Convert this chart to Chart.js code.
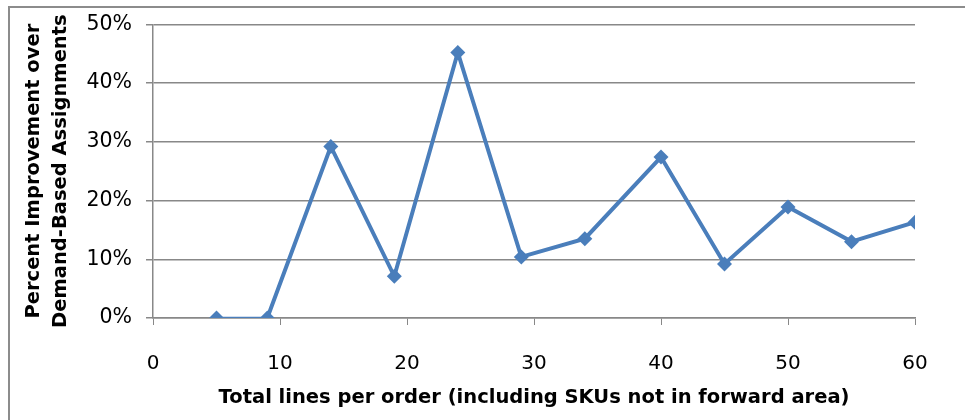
<!DOCTYPE html>
<html>
<head>
<meta charset="utf-8">
<script src="https://cdn.jsdelivr.net/npm/chart.js@4"></script>
<style>
  html, body { margin: 0; padding: 0; background: #fff; }
  #wrap { position: relative; width: 965px; height: 420px; }
  #frame { position: absolute; left: 8px; top: 6px; right: -10px; bottom: -10px;
           border-top: 2px solid #8c8c8c; border-left: 2px solid #8c8c8c; }
  canvas { position: absolute; left: 0; top: 0; }
</style>
</head>
<body>
<div id="wrap">
  <div id="frame"></div>
  <canvas id="improve" width="965" height="420"></canvas>
</div>
<script>
// lines per order vs. percent improvement
var linesPerOrder = [5, 9, 14, 19, 24, 29, 34, 40, 45, 50, 55, 60];
var improvement = [0, 0, 29.2, 7.1, 45.2, 10.4, 13.5, 27.4, 9.2, 18.9, 13.0, 16.3];
var xTitle = "Total lines per order (including SKUs not in forward area)";
var yTitle = ["Percent Improvement over", "Demand-Based Assignments"];

var points = linesPerOrder.map(function (x, i) { return { x: x, y: improvement[i] }; });

var fam = "'DejaVu Sans', sans-serif";
var ctx = document.getElementById("improve").getContext("2d");
var chart = new Chart(ctx, {
  type: 'line',
  data: {
    datasets: [{
      data: points,
      borderColor: "#4a7ebb",
      backgroundColor: "#4a7ebb",
      borderWidth: 4,
      pointStyle: 'rectRot',
      pointRadius: 7.5,
      pointBorderWidth: 0,
      fill: false,
      tension: 0,
      segment: {
        borderWidth: function (c) { return c.p0DataIndex === 0 ? 2.5 : 4; }
      }
    }]
  },
  options: {
    responsive: false,
    animation: false,
    layout: { padding: { left: 10, top: 9, right: 50, bottom: 6 } },
    plugins: { legend: { display: false }, tooltip: { enabled: false } },
    scales: {
      x: {
        type: 'linear',
        min: 0, max: 60,
        ticks: { stepSize: 10, color: "#000", padding: 27, font: { family: fam, size: 20 } },
        grid: { drawOnChartArea: false, color: "#888", tickLength: 7 },
        border: { color: "#888", width: 1.5 },
        title: { display: true, text: xTitle, color: "#000", padding: { top: 4 },
                 font: { family: fam, size: 19.5, weight: 'bold' } },
        afterFit: function (s) { s.height = 96; }
      },
      y: {
        min: 0, max: 50,
        ticks: { stepSize: 10, color: "#000", padding: 14,
                 font: { family: fam, size: 20.5, lineHeight: 1 },
                 callback: function (v) { return v + "%"; } },
        grid: { color: "#888", lineWidth: 1.5, tickLength: 7 },
        border: { color: "#888", width: 1.5 },
        title: { display: true, text: yTitle, color: "#000", padding: { top: 10, bottom: 0 },
                 font: { family: fam, size: 19.5, weight: 'bold', lineHeight: 1.4 } },
        afterFit: function (s) { s.width = 143; }
      }
    }
  }
});
</script>
</body>
</html>
